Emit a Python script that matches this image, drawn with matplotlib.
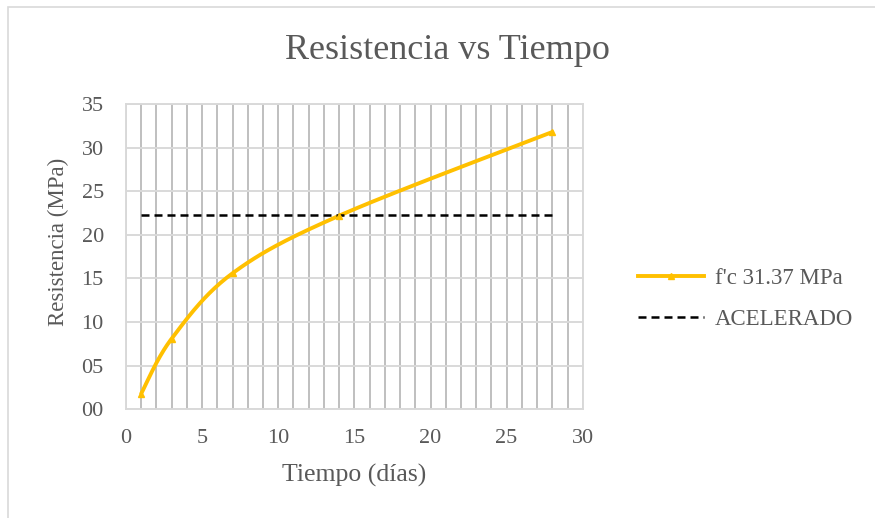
import numpy as np
import matplotlib.pyplot as plt
from matplotlib.patches import Rectangle
from matplotlib.ticker import FormatStrFormatter, MultipleLocator

# Datos de ensayo
dias = [1, 3, 7, 14, 28]
resistencia = [1.8, 8.1, 15.6, 22.2, 31.8]

acelerado_x = [1, 28]
acelerado_y = [22.3, 22.3]

gris_texto = '#595959'
naranja = '#FFC000'

plt.rcParams['font.family'] = ['Liberation Serif', 'DejaVu Serif']


def suavizar(x, y, n=40):
    # Curva Bezier tipo Catmull-Rom entre puntos consecutivos
    x = np.asarray(x, float)
    y = np.asarray(y, float)
    px, py = [], []
    for i in range(len(x) - 1):
        x0, y0 = (x[i - 1], y[i - 1]) if i > 0 else (x[i], y[i])
        x3, y3 = (x[i + 2], y[i + 2]) if i + 2 < len(x) else (x[i + 1], y[i + 1])
        c1x = x[i] + (x[i + 1] - x0) / 6
        c1y = y[i] + (y[i + 1] - y0) / 6
        c2x = x[i + 1] - (x3 - x[i]) / 6
        c2y = y[i + 1] - (y3 - y[i]) / 6
        t = np.linspace(0, 1, n)
        b0, b1, b2, b3 = (1 - t) ** 3, 3 * t * (1 - t) ** 2, 3 * t ** 2 * (1 - t), t ** 3
        px.extend(b0 * x[i] + b1 * c1x + b2 * c2x + b3 * x[i + 1])
        py.extend(b0 * y[i] + b1 * c1y + b2 * c2y + b3 * y[i + 1])
    return np.array(px), np.array(py)


fig = plt.figure(figsize=(8.75, 5.18), dpi=100)
ax = fig.add_axes([0.144, 0.210, 0.522, 0.589])

# Borde del área del gráfico
fig.patches.append(Rectangle((8 / 875, -0.1), 1.2, 1 - 7 / 518 + 0.1,
                             transform=fig.transFigure, fill=False,
                             edgecolor='#D9D9D9', linewidth=1.2))

sx, sy = suavizar(dias, resistencia)
ax.plot(sx, sy, color=naranja, linewidth=2.8, solid_capstyle='round', zorder=3)
ax.plot(dias, resistencia, linestyle='none', marker='^', markersize=5,
        color=naranja, zorder=4)
ax.plot([], [], color=naranja, linewidth=2.8, marker='^', markersize=5,
        label="f'c 31.37 MPa")

ax.plot(acelerado_x, acelerado_y, color='black', linewidth=1.8,
        linestyle=(0, (3.2, 2.0)), label='ACELERADO', zorder=3)

ax.set_xlim(0, 30)
ax.set_ylim(0, 35)
ax.xaxis.set_major_locator(MultipleLocator(5))
ax.xaxis.set_minor_locator(MultipleLocator(1))
ax.yaxis.set_major_locator(MultipleLocator(5))
ax.yaxis.set_major_formatter(FormatStrFormatter('%02d'))

ax.grid(which='minor', axis='x', color='#BFBFBF', linewidth=1.4)
ax.grid(which='major', axis='x', color='#BFBFBF', linewidth=1.4)
ax.grid(which='major', axis='y', color='#D9D9D9', linewidth=1.4)
ax.set_axisbelow(True)

for s in ax.spines.values():
    s.set_color('#D9D9D9')
    s.set_linewidth(1.4)

ax.tick_params(which='both', length=0, labelsize=16, labelcolor=gris_texto)
ax.tick_params(axis='y', pad=16)
ax.tick_params(axis='x', pad=14)

fig.text(0.511, 0.886, 'Resistencia vs Tiempo', fontsize=26, color=gris_texto,
         ha='center', va='baseline')

ax.set_xlabel('Tiempo (días)', fontsize=18.5, color=gris_texto, va='center')
ax.xaxis.set_label_coords(0.5, -0.216)
ax.set_ylabel('Resistencia (MPa)', fontsize=16.5, color=gris_texto, va='center')
ax.yaxis.set_label_coords(-0.147, 0.548)

fig.legend(loc='center left', bbox_to_anchor=(0.729, 0.423), frameon=False,
           fontsize=16.5, labelcolor=gris_texto, handlelength=2.9,
           labelspacing=0.85, handletextpad=0.45, borderpad=0, borderaxespad=0)

fig.savefig('out.png', dpi=100)
